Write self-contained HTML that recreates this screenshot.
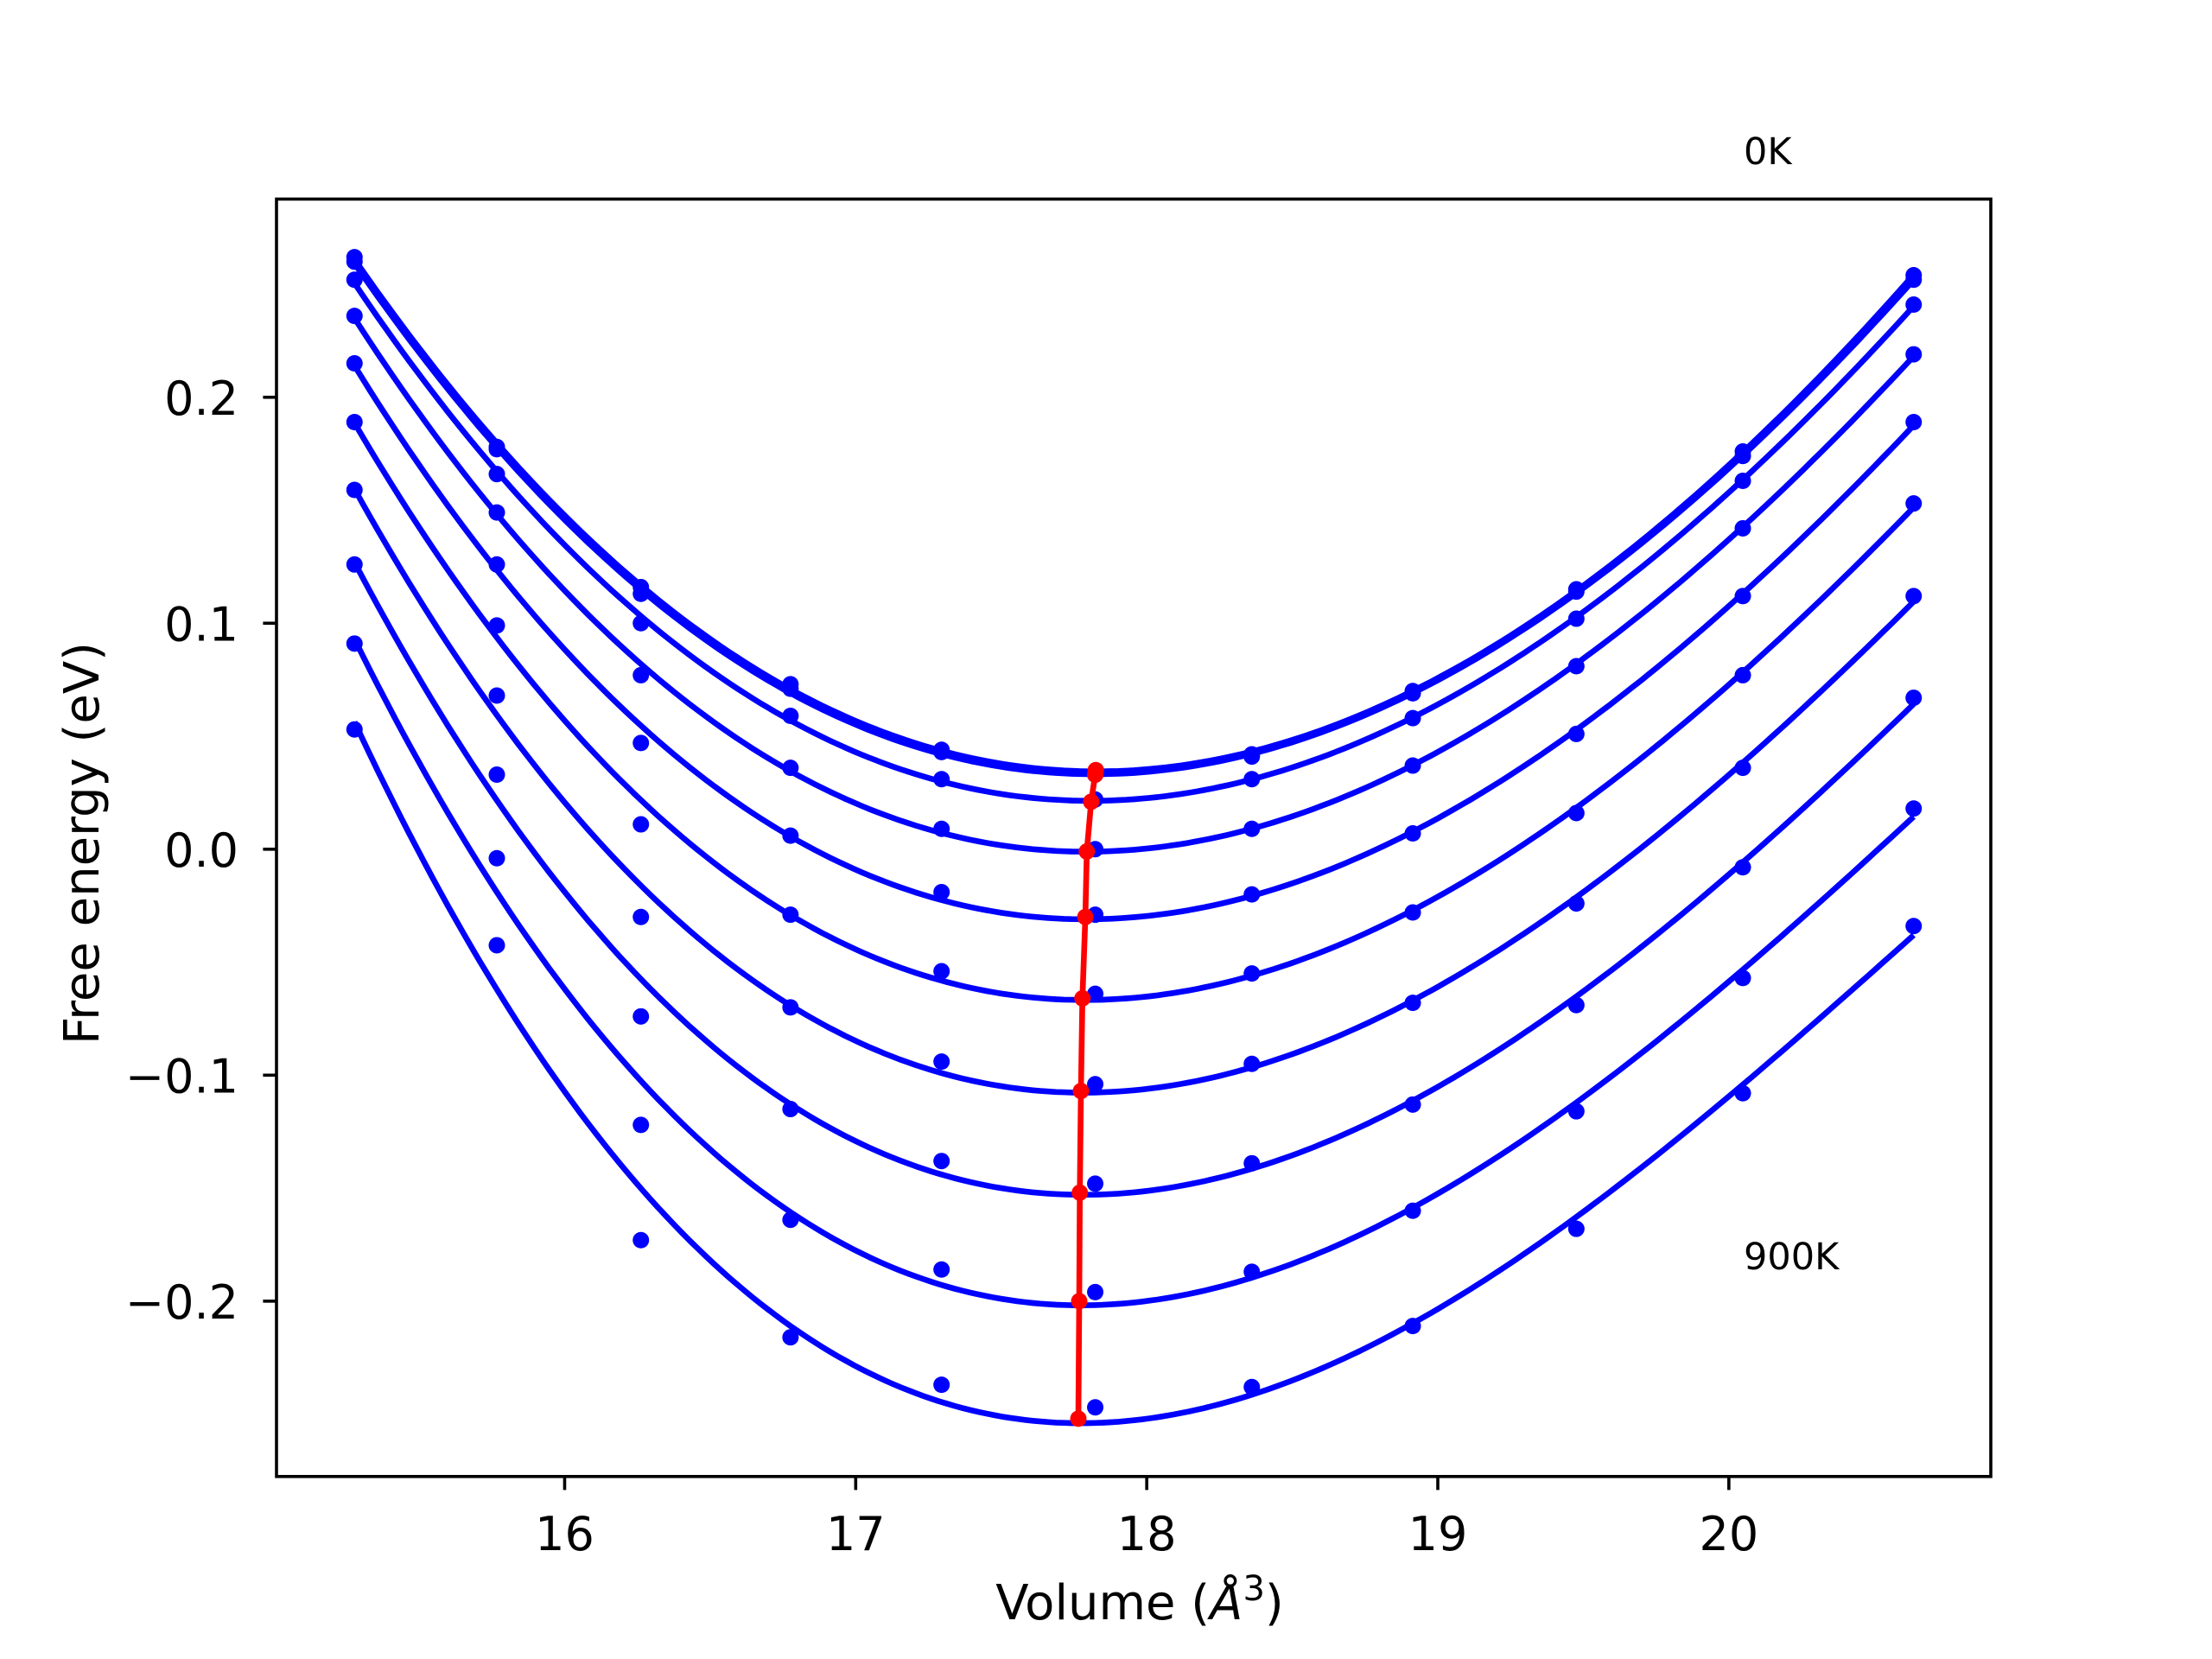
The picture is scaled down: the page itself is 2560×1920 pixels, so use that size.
<!DOCTYPE html>
<html><head><meta charset="utf-8"><style>
html,body{margin:0;padding:0;background:#fff}
svg{display:block;font-family:"DejaVu Sans","Liberation Sans",sans-serif}
</style></head><body>
<svg id="chart" width="2560" height="1920" viewBox="0 0 2560 1920" xmlns="http://www.w3.org/2000/svg">
<rect width="2560" height="1920" fill="#fff"/>
<g id="plot"></g>
<g id="axes"></g>
<text x="2018" y="190" font-size="43">0K</text>
<text x="2018" y="1469" font-size="43">900K</text>
<text transform="translate(114,976) rotate(-90)" text-anchor="middle" font-size="56">Free energy (eV)</text>
<text x="1319" y="1874" text-anchor="middle" font-size="56">Volume (<tspan font-style="italic">Å</tspan><tspan font-size="40" dy="-22">3</tspan><tspan dy="22">)</tspan></text>
</svg>
<script>
const volumes = [15.278,15.767,16.262,16.776,17.295,17.823,18.361,18.914,19.476,20.048,20.635];
const temperatures = ["0K","100K","200K","300K","400K","500K","600K","700K","800K","900K"];
const e0K   = [0.262,0.178,0.116,0.073,0.044,0.034,0.042,0.070,0.115,0.176,0.254];
const e100K = [0.260,0.177,0.113,0.071,0.043,0.033,0.041,0.069,0.114,0.174,0.252];
const e200K = [0.252,0.166,0.100,0.059,0.031,0.022,0.031,0.058,0.102,0.163,0.241];
const e300K = [0.236,0.149,0.077,0.036,0.009,0.000,0.009,0.037,0.081,0.142,0.219];
const e400K = [0.215,0.126,0.047,0.006,-0.019,-0.029,-0.020,0.007,0.051,0.112,0.189];
const e500K = [0.189,0.099,0.011,-0.029,-0.054,-0.064,-0.055,-0.028,0.016,0.077,0.153];
const e600K = [0.159,0.068,-0.030,-0.070,-0.094,-0.104,-0.095,-0.068,-0.024,0.036,0.112];
const e700K = [0.126,0.033,-0.074,-0.115,-0.138,-0.148,-0.139,-0.113,-0.069,-0.008,0.067];
const e800K = [0.091,-0.004,-0.122,-0.164,-0.186,-0.196,-0.187,-0.160,-0.116,-0.057,0.018];
const e900K = [0.053,-0.0425,-0.173,-0.216,-0.237,-0.247,-0.238,-0.211,-0.168,-0.108,-0.034];
const minVolumes = [17.825,17.823,17.809,17.794,17.789,17.779,17.774,17.770,17.768,17.765];
const minEnergies = [0.035,0.033,0.021,-0.001,-0.030,-0.066,-0.107,-0.152,-0.200,-0.252];
const xTicks = [16,17,18,19,20];
const xTickLabels = ["16","17","18","19","20"];
const yTicks = [-0.2,-0.1,0.0,0.1,0.2];
const yTickLabels = ["\u22120.2","\u22120.1","0.0","0.1","0.2"];

const series = [e0K,e100K,e200K,e300K,e400K,e500K,e600K,e700K,e800K,e900K];
const L=320,R=2304,T=230.4,B=1708.8;
const xmin=15.01,xmax=20.90,ymin=-0.2776,ymax=0.2877;
const sx=v=>L+(v-xmin)/(xmax-xmin)*(R-L);
const sy=v=>B-(v-ymin)/(ymax-ymin)*(B-T);
const NS='http://www.w3.org/2000/svg';
const plot=document.getElementById('plot'), axes=document.getElementById('axes');
function mk(tag,attrs,parent){const e=document.createElementNS(NS,tag);for(const k in attrs)e.setAttribute(k,attrs[k]);parent.appendChild(e);return e;}

function cubicFit(xs,ys){
  const xc=18;const n=4;const A=[...Array(n)].map(()=>Array(n+1).fill(0));
  xs.forEach((x,i)=>{const p=[1,x-xc,(x-xc)**2,(x-xc)**3];
    for(let r=0;r<n;r++){for(let c=0;c<n;c++)A[r][c]+=p[r]*p[c];A[r][n]+=p[r]*ys[i];}});
  for(let i=0;i<n;i++){let m=i;for(let k=i+1;k<n;k++)if(Math.abs(A[k][i])>Math.abs(A[m][i]))m=k;[A[i],A[m]]=[A[m],A[i]];
    for(let k=0;k<n;k++)if(k!==i){const f=A[k][i]/A[i][i];for(let j=i;j<=n;j++)A[k][j]-=f*A[i][j];}}
  const c=A.map((r,i)=>r[n]/r[i]);
  return x=>c[0]+c[1]*(x-xc)+c[2]*(x-xc)**2+c[3]*(x-xc)**3;
}

series.forEach((ys,si)=>{
  const f=cubicFit(volumes,ys);
  let d='';const x0=volumes[0],x1=volumes[volumes.length-1];
  for(let i=0;i<=200;i++){const x=x0+(x1-x0)*i/200;d+=(i?'L':'M')+sx(x).toFixed(1)+','+sy(f(x)).toFixed(1);}
  const p=mk('path',{d:d,fill:'none',stroke:'#0000ff','stroke-width':6.67,'stroke-linejoin':'round'},plot);
  
  
  ys.forEach((y,i)=>{
    const c=mk('circle',{cx:sx(volumes[i]),cy:sy(y),r:9.5,fill:'#0000ff'},plot);
    
    
  });
});
let rd='';minVolumes.forEach((v,i)=>{rd+=(i?'L':'M')+sx(v).toFixed(1)+','+sy(minEnergies[i]).toFixed(1);});
const rl=mk('path',{d:rd,fill:'none',stroke:'#ff0000','stroke-width':6.67,'stroke-linejoin':'round'},plot);


minVolumes.forEach((v,i)=>{
  const c=mk('circle',{cx:sx(v),cy:sy(minEnergies[i]),r:9.5,fill:'#ff0000'},plot);
  
  
});
const frame=mk('rect',{x:L,y:T,width:R-L,height:B-T,fill:'none',stroke:'#000','stroke-width':3.6},axes);


xTicks.forEach((t,i)=>{
  const x=sx(t);
  const tk=mk('line',{x1:x,x2:x,y1:B,y2:B+15.6,stroke:'#000','stroke-width':3.6},axes);
  
  
  const tx=mk('text',{x:x,y:1794,'text-anchor':'middle','font-size':54},axes);
  tx.textContent=xTickLabels[i];
  
  
});
yTicks.forEach((t,i)=>{
  const y=sy(t);
  const tk=mk('line',{x1:L-15.6,x2:L,y1:y,y2:y,stroke:'#000','stroke-width':3.6},axes);
  
  
  const tx=mk('text',{x:276,y:y+20,'text-anchor':'end','font-size':54},axes);
  tx.textContent=yTickLabels[i];
  
  
});
</script>
</body></html>
